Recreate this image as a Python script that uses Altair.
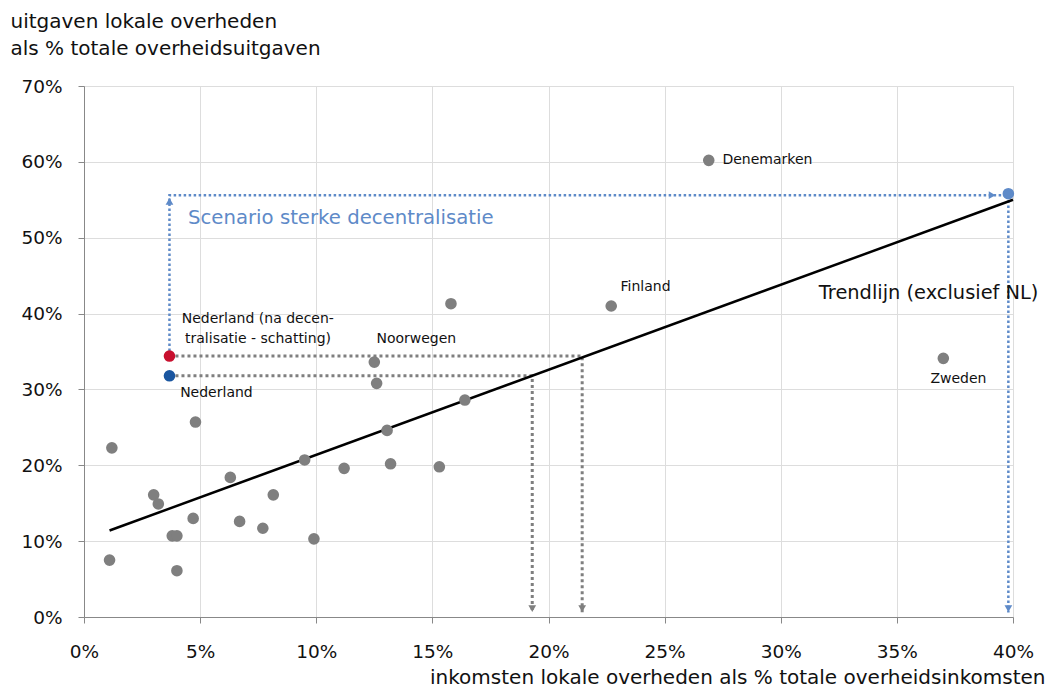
import altair as alt
import pandas as pd

# ---- data ----
country_x = [1.2, 1.1, 3.0, 3.2, 3.8, 4.0, 4.0, 4.7, 4.8, 6.3, 6.7, 7.7, 8.15, 9.5, 9.9,
             11.2, 12.5, 12.6, 13.05, 13.2, 15.3, 15.8, 16.4, 22.7, 26.9, 37.0]
country_y = [22.3, 7.5, 16.1, 14.9, 10.7, 10.7, 6.1, 13.0, 25.7, 18.4, 12.6, 11.7, 16.1, 20.7, 10.3,
             19.6, 33.6, 30.8, 24.6, 20.2, 19.8, 41.3, 28.6, 41.0, 60.2, 34.1]

nl_x = [3.68]
nl_y = [31.8]            # Nederland
nl_dec_y = [34.4]        # Nederland na decentralisatie (schatting)
scen_x = [39.8]
scen_y = [55.8]          # scenario sterke decentralisatie

trend_x = [1.1, 40.0]
trend_y = [11.4, 55.0]

# projection paths (dotted guides)
path_red_x = [3.68, 21.45, 21.45]
path_red_y = [34.4, 34.4, 0.6]
path_blue_x = [3.68, 19.3, 19.3]
path_blue_y = [31.8, 31.8, 0.6]
path_scen_x = [3.68, 3.68, 39.8, 39.8]
path_scen_y = [34.4, 55.6, 55.6, 0.6]

arrow_gray_x = [19.3, 21.45]
arrow_gray_y = [1.1, 1.1]

label_small = ["Denemarken", "Finland", "Noorwegen", "Nederland (na decen-",
               "tralisatie - schatting)", "Nederland"]
label_small_x = [27.49, 23.1, 12.59, 4.21, 4.35, 4.14]
label_small_y = [59.7, 43.0, 36.14, 38.8, 36.14, 29.0]

x_ticks = [0, 5, 10, 15, 20, 25, 30, 35, 40]
y_ticks = [0, 10, 20, 30, 40, 50, 60, 70]

FONT = "DejaVu Sans"
GRAY = "#7f7f7f"
BLUE_LIGHT = "#5e8ac8"
TEXT = "#111111"

xs = alt.Scale(domain=[0, 40], nice=False, zero=False)
ys = alt.Scale(domain=[0, 70], nice=False, zero=False)

X = alt.X("x:Q", scale=xs, axis=alt.Axis(
    values=x_ticks, labelExpr="datum.value + '%'",
    title="inkomsten lokale overheden als % totale overheidsinkomsten",
    titleAlign="right", titleAnchor="start", titleX=961, titleY=66,
    titleBaseline="alphabetic", titleFontWeight="normal", titleFontSize=20,
    titleFont=FONT, titleColor=TEXT,
    tickSize=6, labelPadding=19, labelFontSize=18.5, labelFont=FONT,
    labelColor=TEXT, grid=True, labelFlush=False))
Y = alt.Y("y:Q", scale=ys, axis=alt.Axis(
    values=y_ticks, labelExpr="datum.value + '%'",
    title=["uitgaven lokale overheden", "als % totale overheidsuitgaven"],
    titleAngle=0, titleAlign="left", titleAnchor="start", titleX=-74, titleY=-59,
    titleBaseline="alphabetic", titleLineHeight=27, titleFontWeight="normal",
    titleFontSize=20, titleFont=FONT, titleColor=TEXT,
    tickSize=6, labelPadding=16, labelFontSize=18.5, labelFont=FONT,
    labelColor=TEXT, grid=True, labelFlush=False))

countries = pd.DataFrame({"x": country_x, "y": country_y})
trend = pd.DataFrame({"x": trend_x, "y": trend_y})
paths_gray = pd.DataFrame({
    "x": path_red_x + path_blue_x,
    "y": path_red_y + path_blue_y,
    "p": ["red"] * len(path_red_x) + ["blue"] * len(path_blue_x),
    "o": list(range(len(path_red_x))) + list(range(len(path_blue_x))),
})
path_scen = pd.DataFrame({"x": path_scen_x, "y": path_scen_y, "o": list(range(len(path_scen_x)))})

gray_lines = alt.Chart(paths_gray).mark_line(
    color=GRAY, strokeWidth=3, strokeDash=[3, 3], interpolate="linear"
).encode(x=X, y=Y, detail="p:N", order="o:Q")

scen_line = alt.Chart(path_scen).mark_line(
    color=BLUE_LIGHT, strokeWidth=2.5, strokeDash=[2.5, 2.5]
).encode(x=X, y=Y, order="o:Q")

gray_arrows = alt.Chart(pd.DataFrame({"x": arrow_gray_x, "y": arrow_gray_y})).mark_point(
    shape="triangle-down", filled=True, color=GRAY, size=60, opacity=1
).encode(x=X, y=Y)

scen_arrow_down = alt.Chart(pd.DataFrame({"x": scen_x, "y": [1.1]})).mark_point(
    shape="triangle-down", filled=True, color=BLUE_LIGHT, size=60, opacity=1
).encode(x=X, y=Y)
scen_arrow_up = alt.Chart(pd.DataFrame({"x": nl_x, "y": [54.8]})).mark_point(
    shape="triangle-up", filled=True, color=BLUE_LIGHT, size=60, opacity=1
).encode(x=X, y=Y)
scen_arrow_right = alt.Chart(pd.DataFrame({"x": [39.1], "y": [55.6]})).mark_point(
    shape="triangle-right", filled=True, color=BLUE_LIGHT, size=60, opacity=1
).encode(x=X, y=Y)

trend_line = alt.Chart(trend).mark_line(color="#000000", strokeWidth=2.5).encode(x=X, y=Y)

country_pts = alt.Chart(countries).mark_circle(color=GRAY, size=135, opacity=1).encode(x=X, y=Y)
nl_pt = alt.Chart(pd.DataFrame({"x": nl_x, "y": nl_y})).mark_circle(
    color="#1a56a0", size=135, opacity=1).encode(x=X, y=Y)
nl_dec_pt = alt.Chart(pd.DataFrame({"x": nl_x, "y": nl_dec_y})).mark_circle(
    color="#c8102e", size=135, opacity=1).encode(x=X, y=Y)
scen_pt = alt.Chart(pd.DataFrame({"x": scen_x, "y": scen_y})).mark_circle(
    color=BLUE_LIGHT, size=135, opacity=1).encode(x=X, y=Y)

small_labels = alt.Chart(pd.DataFrame({"x": label_small_x, "y": label_small_y, "t": label_small})).mark_text(
    align="left", baseline="alphabetic", font=FONT, fontSize=14, color=TEXT
).encode(x=X, y=Y, text="t:N")
zweden_label = alt.Chart(pd.DataFrame({"x": [37.65], "y": [30.8], "t": ["Zweden"]})).mark_text(
    align="center", baseline="alphabetic", font=FONT, fontSize=14, color=TEXT
).encode(x=X, y=Y, text="t:N")
trend_label = alt.Chart(pd.DataFrame({"x": [31.64], "y": [41.86], "t": ["Trendlijn (exclusief NL)"]})).mark_text(
    align="left", baseline="alphabetic", font=FONT, fontSize=19.4, color=TEXT
).encode(x=X, y=Y, text="t:N")
scen_label = alt.Chart(pd.DataFrame({"x": [4.48], "y": [51.87], "t": ["Scenario sterke decentralisatie"]})).mark_text(
    align="left", baseline="alphabetic", font=FONT, fontSize=19.7, color=BLUE_LIGHT
).encode(x=X, y=Y, text="t:N")

chart = alt.layer(
    gray_lines, scen_line, trend_line, gray_arrows, scen_arrow_down, scen_arrow_up, scen_arrow_right,
    country_pts, nl_pt, nl_dec_pt, scen_pt,
    small_labels, zweden_label, trend_label, scen_label
).properties(
    width=929, height=531,
    autosize=alt.AutoSizeParams(type="none"),
    padding={"left": 76, "top": 78, "right": 32, "bottom": 72},
).configure_view(stroke=None).configure_axis(
    domainColor="#595959", tickColor="#595959", gridColor="#d9d9d9", domainWidth=1.2
).configure(background="#ffffff")

chart.save("out.html", embed_options={"renderer": "svg", "actions": False})
